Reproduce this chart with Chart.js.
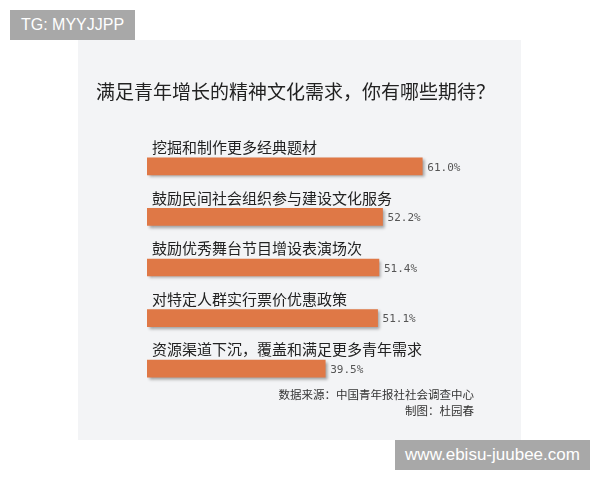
<!DOCTYPE html>
<html>
<head>
<meta charset="utf-8">
<script src="https://cdn.jsdelivr.net/npm/chart.js@4"></script>
<style>
  html, body { margin: 0; padding: 0; background: #fff; }
  #wrap { position: relative; width: 600px; height: 480px; }
  .mark {
    position: absolute; background: #a8a8a8; color: #fff;
    font-family: "Liberation Sans", Arial, sans-serif;
    display: flex; align-items: center; justify-content: center;
  }
</style>
</head>
<body>
<div id="wrap">
  <canvas id="surveyChart" width="600" height="480"></canvas>
  <div class="mark" style="left:10px;top:10px;width:125px;height:30px;font-size:16px;">TG: MYYJJPP</div>
  <div class="mark" style="left:395px;top:440px;width:195px;height:30px;font-size:17px;">www.ebisu-juubee.com</div>
</div>
<script>
const titleText = '满足青年增长的精神文化需求，你有哪些期待？';
const categories = [
  '挖掘和制作更多经典题材',
  '鼓励民间社会组织参与建设文化服务',
  '鼓励优秀舞台节目增设表演场次',
  '对特定人群实行票价优惠政策',
  '资源渠道下沉，覆盖和满足更多青年需求'
];
const percentages = [61.0, 52.2, 51.4, 51.1, 39.5];
const sourceText = '数据来源：中国青年报社社会调查中心';
const creditText = '制图：杜园春';

const cjkFont = '"Noto Sans CJK SC", "Noto Sans", sans-serif';

// grey panel, title and footer
const panelPlugin = {
  id: 'panel',
  beforeDraw(chart) {
    const ctx = chart.ctx;
    ctx.save();
    ctx.fillStyle = '#f3f4f6';
    ctx.fillRect(78, 40, 443, 400);
    ctx.fillStyle = '#222';
    ctx.font = '19px ' + cjkFont;
    ctx.textBaseline = 'middle';
    ctx.textAlign = 'left';
    ctx.fillText(titleText, 96, 92);
    ctx.fillStyle = '#333';
    ctx.font = '11.5px ' + cjkFont;
    ctx.textAlign = 'right';
    ctx.fillText(sourceText, 474, 395);
    ctx.fillText(creditText, 474, 411);
    ctx.restore();
  }
};

// soft shadow under the bars
const shadowPlugin = {
  id: 'barShadow',
  beforeDatasetsDraw(chart) {
    const ctx = chart.ctx;
    ctx.save();
    ctx.shadowColor = 'rgba(0,0,0,0.35)';
    ctx.shadowOffsetX = 2;
    ctx.shadowOffsetY = 2;
    ctx.shadowBlur = 3;
  },
  afterDatasetsDraw(chart) {
    chart.ctx.restore();
  }
};

// category name above each bar, percentage after it
const labelPlugin = {
  id: 'barLabels',
  afterDatasetsDraw(chart) {
    const ctx = chart.ctx;
    const meta = chart.getDatasetMeta(0);
    ctx.save();
    ctx.textBaseline = 'middle';
    meta.data.forEach((bar, i) => {
      ctx.fillStyle = '#222';
      ctx.font = '15px ' + cjkFont;
      ctx.textAlign = 'left';
      ctx.fillText(categories[i], bar.base + 5, bar.y - 19);
      ctx.fillStyle = '#555';
      ctx.font = '11px "DejaVu Sans Mono", monospace';
      ctx.fillText(percentages[i].toFixed(1) + '%', bar.x + 5, bar.y + 1.5);
    });
    ctx.restore();
  }
};

new Chart(document.getElementById('surveyChart'), {
  type: 'bar',
  data: {
    labels: categories,
    datasets: [{
      data: percentages,
      backgroundColor: '#df7846',
      borderWidth: 0,
      barThickness: 17
    }]
  },
  options: {
    indexAxis: 'y',
    responsive: false,
    animation: false,
    layout: { padding: { left: 147, right: 92, top: 141, bottom: 86 } },
    scales: {
      x: { display: false, min: 0, max: 80 },
      y: { display: false }
    },
    plugins: {
      legend: { display: false },
      tooltip: { enabled: false }
    }
  },
  plugins: [panelPlugin, shadowPlugin, labelPlugin]
});
</script>
</body>
</html>
